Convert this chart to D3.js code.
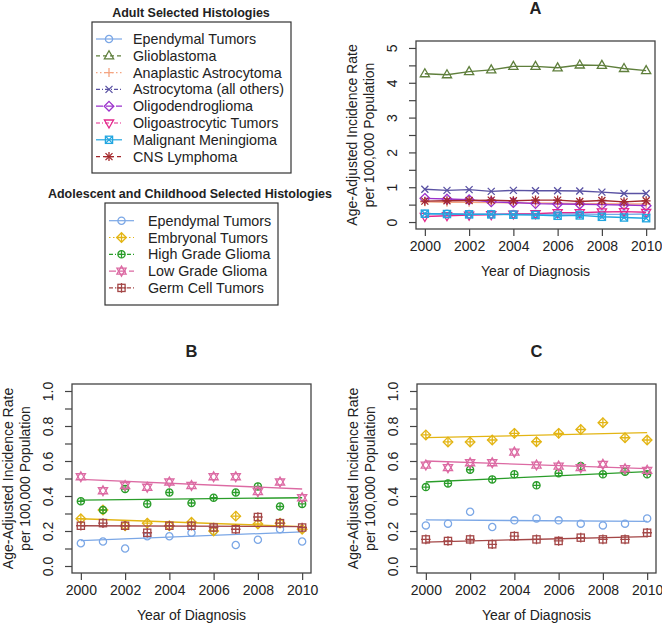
<!DOCTYPE html>
<html>
<head>
<meta charset="utf-8">
<script src="https://cdn.jsdelivr.net/npm/d3@7"></script>
<style>
body { margin: 0; background: #fff; }
text { font-family: "Liberation Sans", Arial, sans-serif; fill: #222; }
</style>
</head>
<body>
<div id="chart"></div>
<script>
// DATA
var years = [2000, 2001, 2002, 2003, 2004, 2005, 2006, 2007, 2008, 2009, 2010];
var xTicks = [2000, 2002, 2004, 2006, 2008, 2010];
var yTicksA = [0, 1, 2, 3, 4, 5];
var yTicksBC = [0, 0.2, 0.4, 0.6, 0.8, 1.0];

// panel A - adult histologies
var adultNames = ["Ependymal Tumors", "Glioblastoma", "Anaplastic Astrocytoma", "Astrocytoma (all others)",
                  "Oligodendroglioma", "Oligoastrocytic Tumors", "Malignant Meningioma", "CNS Lymphoma"];
var adultEpendymal   = [0.24, 0.24, 0.23, 0.23, 0.23, 0.23, 0.23, 0.23, 0.22, 0.22, 0.23];
var adultGlioblastoma= [4.26, 4.23, 4.32, 4.37, 4.47, 4.47, 4.43, 4.51, 4.50, 4.41, 4.35];
var adultAnaplastic  = [0.58, 0.57, 0.57, 0.56, 0.55, 0.55, 0.54, 0.53, 0.53, 0.52, 0.52];
var adultAstro       = [0.94, 0.91, 0.93, 0.88, 0.91, 0.90, 0.90, 0.89, 0.86, 0.82, 0.82];
var adultOligoDendro = [0.68, 0.66, 0.64, 0.58, 0.56, 0.53, 0.52, 0.51, 0.50, 0.49, 0.47];
var adultOligoAstro  = [0.16, 0.18, 0.20, 0.21, 0.23, 0.24, 0.27, 0.27, 0.29, 0.30, 0.28];
var adultMeningioma  = [0.24, 0.23, 0.22, 0.22, 0.21, 0.20, 0.18, 0.19, 0.15, 0.13, 0.11];
var adultLymphoma    = [0.60, 0.61, 0.62, 0.63, 0.61, 0.63, 0.63, 0.59, 0.62, 0.58, 0.61];

// panels B and C - adolescent and childhood histologies
var childNames = ["Ependymal Tumors", "Embryonal Tumors", "High Grade Glioma", "Low Grade Glioma", "Germ Cell Tumors"];
var bEpendymal = [0.13, 0.14, 0.10, 0.17, 0.17, 0.19, 0.20, 0.12, 0.15, 0.21, 0.14];
var bEmbryonal = [0.27, 0.32, 0.23, 0.245, 0.23, 0.25, 0.20, 0.285, 0.24, 0.245, 0.21];
var bHighGrade = [0.37, 0.32, 0.44, 0.355, 0.42, 0.36, 0.39, 0.42, 0.455, 0.34, 0.355];
var bLowGrade  = [0.51, 0.43, 0.46, 0.45, 0.48, 0.46, 0.51, 0.51, 0.425, 0.48, 0.39];
var bGermCell  = [0.23, 0.245, 0.23, 0.19, 0.23, 0.23, 0.22, 0.21, 0.28, 0.245, 0.22];
var trendB2000 = [0.145, 0.27, 0.377, 0.495, 0.23];
var trendB2010 = [0.195, 0.225, 0.39, 0.44, 0.225];

var cEpendymal = [0.232, 0.242, 0.31, 0.223, 0.261, 0.272, 0.261, 0.242, 0.232, 0.242, 0.272];
var cEmbryonal = [0.749, 0.709, 0.709, 0.72, 0.758, 0.71, 0.758, 0.78, 0.819, 0.733, 0.72];
var cHighGrade = [0.451, 0.472, 0.55, 0.495, 0.524, 0.461, 0.53, 0.571, 0.524, 0.539, 0.524];
var cLowGrade  = [0.577, 0.562, 0.59, 0.59, 0.651, 0.577, 0.571, 0.562, 0.581, 0.556, 0.547];
var cGermCell  = [0.152, 0.143, 0.152, 0.124, 0.171, 0.152, 0.143, 0.162, 0.152, 0.152, 0.19];
var trendC2000 = [0.263, 0.733, 0.48, 0.6, 0.137];
var trendC2010 = [0.255, 0.762, 0.539, 0.556, 0.168];

// styles (colour, legend dash, symbol)
var adultStyle = [
	{col: "#7ba7e6", dash: null,    sym: "circle"},
	{col: "#5f7f3c", dash: "4,3",   sym: "triangle"},
	{col: "#f4a582", dash: "1.5,2.5", sym: "plus"},
	{col: "#5a52a3", dash: "4,2,1,2", sym: "cross"},
	{col: "#9b32cc", dash: "7,3",   sym: "diamond"},
	{col: "#e3288c", dash: "4,2,1,2", sym: "triangledown"},
	{col: "#22a6e0", dash: null,    sym: "squarex"},
	{col: "#a3282c", dash: "4,3",   sym: "asterisk"}
];
var childStyle = [
	{col: "#7ba7e6", dash: null,    sym: "circle"},
	{col: "#e3b514", dash: "1.5,2.5", sym: "diamondplus"},
	{col: "#2a9d2a", dash: "4,2,1,2", sym: "circleplus"},
	{col: "#dc6aa3", dash: "7,3",   sym: "star"},
	{col: "#a44747", dash: "4,2,1,2", sym: "squareplus"}
];

var W = 662, H = 624;
var svg = d3.select("#chart").append("svg").attr("width", W).attr("height", H);

function drawSymbol(g, sym, x, y, col){
	var s = g.append("g").attr("transform", "translate(" + x + "," + y + ")")
		.attr("fill", "none").attr("stroke", col).attr("stroke-width", 1.3);
	var r = 3.6;
	if (sym == "circle" || sym == "circleplus") s.append("circle").attr("r", r);
	if (sym == "triangle" || sym == "star") s.append("path").attr("d", "M0,-5L4.6,3L-4.6,3Z");
	if (sym == "triangledown" || sym == "star") s.append("path").attr("d", "M0,5L4.6,-3L-4.6,-3Z");
	if (sym == "diamond" || sym == "diamondplus") s.append("path").attr("d", "M0,-4.8L4.8,0L0,4.8L-4.8,0Z");
	if (sym == "squarex" || sym == "squareplus") s.append("rect").attr("x", -3.6).attr("y", -3.6).attr("width", 7.2).attr("height", 7.2);
	if (sym == "plus" || sym == "asterisk" || sym == "diamondplus" || sym == "squareplus")
		s.append("path").attr("d", sym == "plus" || sym == "asterisk" ? "M-4.5,0H4.5M0,-4.5V4.5" : "M-4.8,0H4.8M0,-4.8V4.8");
	if (sym == "circleplus") s.append("path").attr("d", "M-3.6,0H3.6M0,-3.6V3.6");
	if (sym == "squarex") s.append("path").attr("d", "M-3.6,-3.6L3.6,3.6M-3.6,3.6L3.6,-3.6");
	if (sym == "cross" || sym == "asterisk") s.append("path").attr("d", "M-3.5,-3.5L3.5,3.5M-3.5,3.5L3.5,-3.5");
}

function drawPanel(box, ymax, yTicks, minorStep, title){
	// R style: 4% padding on each axis
	var x = d3.scaleLinear().domain([2000 - 0.4, 2010 + 0.4]).range([box.l, box.r]);
	var y = d3.scaleLinear().domain([-0.04 * ymax, 1.04 * ymax]).range([box.b, box.t]);
	var g = svg.append("g");

	var xAxis = d3.axisBottom(x).tickValues(xTicks).tickSize(7).tickPadding(5).tickFormat(d3.format("d"));
	var gx = g.append("g").attr("transform", "translate(0," + box.b + ")").call(xAxis);
	var yAll = d3.range(0, ymax + minorStep / 2, minorStep);
	var yAxis = d3.axisLeft(y).tickValues(yAll).tickSize(7).tickPadding(9)
		.tickFormat(function(d){
			var lab = yTicks.find(function(t){ return Math.abs(t - d) < 1e-6; });
			if (lab === undefined) return "";
			return ymax > 1 ? d3.format("d")(lab) : d3.format(".1f")(lab);
		});
	var gy = g.append("g").attr("transform", "translate(" + box.l + ",0)").call(yAxis);
	[gx, gy].forEach(function(a){
		a.select(".domain").remove();
		a.selectAll("line").attr("stroke", "#444").attr("stroke-width", 1.2);
		a.selectAll("text").attr("font-size", 14).attr("fill", "#222")
			.style("font-family", "'Liberation Sans', Arial, sans-serif");
	});
	gy.selectAll(".tick text")
		.attr("text-anchor", "middle").attr("dy", null).attr("dominant-baseline", "central")
		.attr("x", null)
		.attr("transform", "translate(-24,0) rotate(-90)");

	g.append("rect").attr("x", box.l).attr("y", box.t)
		.attr("width", box.r - box.l).attr("height", box.b - box.t)
		.attr("fill", "none").attr("stroke", "#444").attr("stroke-width", 1.3);

	var cx = (box.l + box.r) / 2, cy = (box.t + box.b) / 2;
	g.append("text").attr("x", cx).attr("y", box.b + 47).attr("text-anchor", "middle")
		.attr("font-size", 14).text("Year of Diagnosis");
	g.append("text").attr("transform", "translate(" + (box.l - 59) + "," + cy + ") rotate(-90)")
		.attr("text-anchor", "middle").attr("font-size", 14).text("Age-Adjusted Incidence Rate");
	g.append("text").attr("transform", "translate(" + (box.l - 42) + "," + cy + ") rotate(-90)")
		.attr("text-anchor", "middle").attr("font-size", 14).text("per 100,000 Population");
	g.append("text").attr("x", cx).attr("y", box.t - 27).attr("text-anchor", "middle")
		.attr("font-size", 16.5).attr("font-weight", "bold").text(title);
	return {g: g, x: x, y: y};
}

// PANEL A
var pA = drawPanel({l: 416, r: 655, t: 41, b: 229}, 5, yTicksA, 0.5, "A");
var adultSeries = [adultEpendymal, adultGlioblastoma, adultAnaplastic, adultAstro,
                   adultOligoDendro, adultOligoAstro, adultMeningioma, adultLymphoma];
var lineA = d3.line().x(function(d, i){ return pA.x(years[i]); }).y(function(d){ return pA.y(d); });
adultSeries.forEach(function(vals, k){
	var st = adultStyle[k];
	pA.g.append("path").attr("d", lineA(vals)).attr("fill", "none")
		.attr("stroke", st.col).attr("stroke-width", 1.4);
	vals.forEach(function(v, i){ drawSymbol(pA.g, st.sym, pA.x(years[i]), pA.y(v), st.col); });
});

// PANELS B, C
function drawChildPanel(box, title, series, t0, t1){
	var p = drawPanel(box, 1, yTicksBC, 0.1, title);
	series.forEach(function(vals, k){
		var st = childStyle[k];
		p.g.append("line").attr("x1", p.x(2000)).attr("x2", p.x(2010))
			.attr("y1", p.y(t0[k])).attr("y2", p.y(t1[k]))
			.attr("stroke", st.col).attr("stroke-width", 1.3);
		vals.forEach(function(v, i){ drawSymbol(p.g, st.sym, p.x(years[i]), p.y(v), st.col); });
	});
}
drawChildPanel({l: 72, r: 311, t: 384, b: 573}, "B",
	[bEpendymal, bEmbryonal, bHighGrade, bLowGrade, bGermCell], trendB2000, trendB2010);
drawChildPanel({l: 417, r: 656, t: 384, b: 573}, "C",
	[cEpendymal, cEmbryonal, cHighGrade, cLowGrade, cGermCell], trendC2000, trendC2010);

// LEGENDS
function drawLegend(title, titleX, titleY, box, lineX0, lineX1, textX, row0, names, styles){
	var g = svg.append("g");
	g.append("text").attr("x", titleX).attr("y", titleY).attr("text-anchor", "middle")
		.attr("dominant-baseline", "central").attr("font-size", 12.5).attr("font-weight", "bold").text(title);
	g.append("rect").attr("x", box.l).attr("y", box.t).attr("width", box.r - box.l).attr("height", box.b - box.t)
		.attr("fill", "none").attr("stroke", "#333").attr("stroke-width", 1.2);
	names.forEach(function(name, i){
		var st = styles[i], yy = row0 + i * 16.8;
		g.append("line").attr("x1", lineX0).attr("x2", lineX1).attr("y1", yy).attr("y2", yy)
			.attr("stroke", st.col).attr("stroke-width", 1.2).attr("stroke-dasharray", st.dash);
		drawSymbol(g, st.sym, (lineX0 + lineX1) / 2, yy, st.col);
		g.append("text").attr("x", textX).attr("y", yy).attr("dominant-baseline", "central")
			.attr("font-size", 14.3).text(name);
	});
}
drawLegend("Adult Selected Histologies", 191, 13, {l: 92, r: 291, t: 22, b: 173},
	96, 122, 133, 39, adultNames, adultStyle);
drawLegend("Adolescent and Childhood Selected Histologies", 190, 194, {l: 105, r: 278, t: 203, b: 305},
	109, 134, 148, 220.7, childNames, childStyle);
</script>
</body>
</html>
